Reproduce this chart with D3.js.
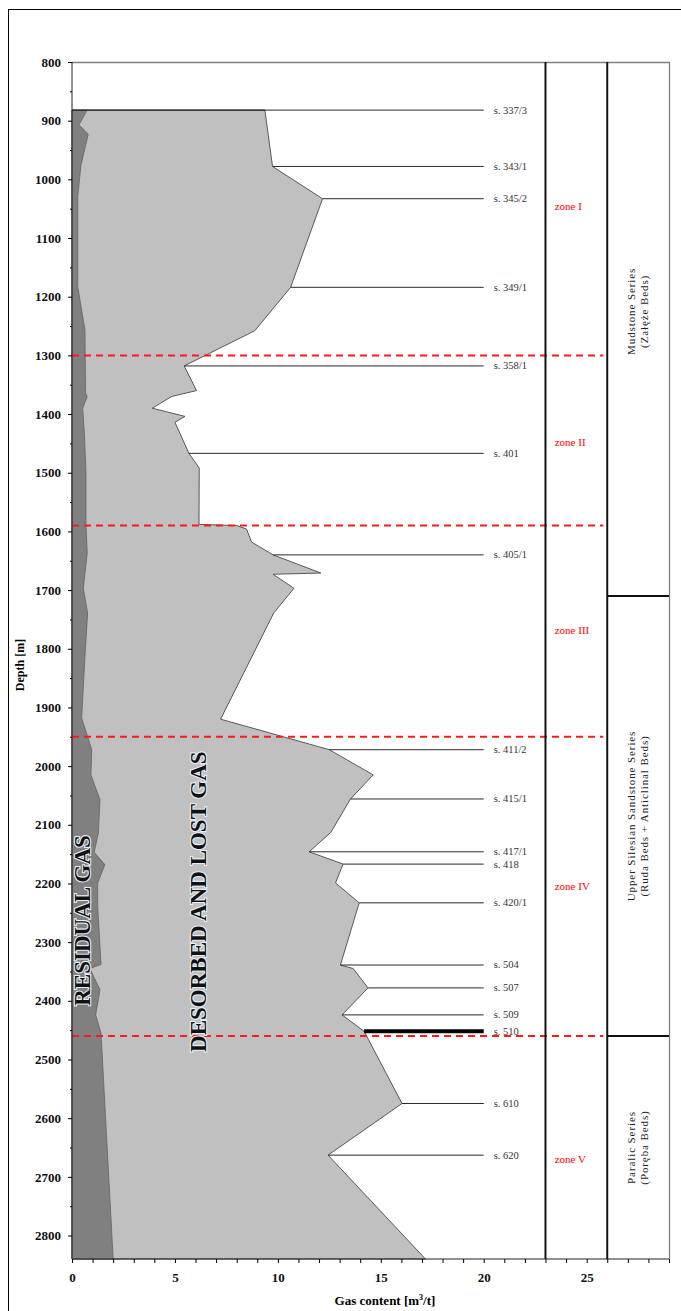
<!DOCTYPE html>
<html>
<head>
<meta charset="utf-8">
<script src="https://cdn.jsdelivr.net/npm/d3@7"></script>
<style>
  html, body { margin: 0; padding: 0; background: #fff; }
  svg { display: block; font-family: "Liberation Serif", "Times New Roman", serif; }
</style>
</head>
<body>
<svg id="chart" width="681" height="1311"></svg>
<script>
// Total gas content (desorbed + lost + residual) vs depth
const totalDepth = [882, 978, 1033, 1184, 1258, 1318, 1360, 1370, 1390, 1404, 1414, 1467, 1492, 1588, 1590, 1596, 1618, 1640, 1671, 1673, 1697, 1739, 1920, 1972, 2015, 2056, 2113, 2146, 2167, 2199, 2233, 2339, 2345, 2378, 2424, 2452, 2575, 2663, 2840];
const totalGas = [9.37, 9.74, 12.17, 10.62, 8.88, 5.45, 6.05, 4.84, 3.9, 5.49, 5.0, 5.68, 6.18, 6.17, 8.0, 8.48, 8.72, 9.77, 12.09, 9.77, 10.78, 9.8, 7.22, 12.5, 14.63, 13.53, 12.57, 11.52, 13.17, 12.8, 13.95, 13.04, 13.66, 14.38, 13.12, 14.19, 16.03, 12.44, 17.17];

// Residual gas content vs depth
const residualDepth = [882, 907, 923, 975, 1029, 1183, 1257, 1364, 1370, 1390, 1432, 1500, 1588, 1637, 1697, 1739, 1813, 1918, 1972, 2015, 2057, 2114, 2147, 2168, 2199, 2239, 2338, 2345, 2381, 2424, 2455, 2840];
const residualGas = [0.74, 0.34, 0.79, 0.44, 0.28, 0.28, 0.63, 0.66, 0.74, 0.52, 0.6, 0.68, 0.68, 0.74, 0.55, 0.76, 0.63, 0.47, 0.96, 0.92, 1.36, 1.28, 1.08, 1.6, 1.25, 1.25, 1.41, 0.87, 1.36, 1.15, 1.41, 2.0];

// Sampled seams
const sampleNames = ["s. 337/3", "s. 343/1", "s. 345/2", "s. 349/1", "s. 358/1", "s. 401", "s. 405/1", "s. 411/2", "s. 415/1", "s. 417/1", "s. 418", "s. 420/1", "s. 504", "s. 507", "s. 509", "s. 510", "s. 610", "s. 620"];
const sampleDepths = [882, 978, 1033, 1184, 1318, 1467, 1640, 1972, 2056, 2146, 2167, 2233, 2339, 2378, 2424, 2452, 2575, 2663];
const highlightedSample = "s. 510";

// Gas zones
const zoneBounds = [1300, 1590, 1950, 2460];
const zoneNames = ["zone I", "zone II", "zone III", "zone IV", "zone V"];
const zoneLabelDepths = [1046, 1449, 1769, 2205, 2670];

// Lithostratigraphic series
const seriesBounds = [1710, 2460];
const seriesLines = [
  ["Mudstone Series", "(Załęże Beds)"],
  ["Upper Silesian Sandstone Series", "(Ruda Beds + Anticlinal Beds)"],
  ["Paralic Series", "(Poręba Beds)"]
];
const seriesLabelDepths = [1225, 2085, 2650];

// Axes
const depthTicks = d3.range(800, 2801, 100);
const depthMinorTicks = d3.range(850, 2801, 100);
const gasTicks = d3.range(0, 30, 1);
const gasLabelTicks = [0, 5, 10, 15, 20, 25];
const depthDomain = [800, 2840];
const gasDomain = [0, 29];
const sampleLineEnd = 20;
const zoneColumn = [23, 26];

const svg = d3.select("#chart");
const plotLeft = 72, plotRight = 669, plotTop = 62, plotBottom = 1259;

const x = d3.scaleLinear().domain(gasDomain).range([plotLeft, plotRight]);
const y = d3.scaleLinear().domain(depthDomain).range([plotTop, plotBottom]);

// Outer frame
svg.append("rect").attr("x", 8.5).attr("y", 9.5).attr("width", 700).attr("height", 1400)
  .attr("fill", "none").attr("stroke", "#000").attr("stroke-width", 1);

// Plot border (top and right)
svg.append("path")
  .attr("d", `M${plotLeft},${plotTop + 0.5}H${plotRight + 0.5}V${plotBottom}`)
  .attr("fill", "none").attr("stroke", "#808080").attr("stroke-width", 1.3);

// Total gas area
const totalPts = totalDepth.map((d, i) => [totalGas[i], d]);
const areaFromZero = d3.area().y(d => y(d[1])).x0(x(0)).x1(d => x(d[0]));
svg.append("path").datum(totalPts)
  .attr("d", areaFromZero)
  .attr("fill", "#c0c0c0").attr("stroke", "#4a4a4a").attr("stroke-width", 0.9)
  .attr("stroke-linejoin", "miter");

// Residual gas area
const resPts = residualDepth.map((d, i) => [residualGas[i], d]);
svg.append("path").datum(resPts)
  .attr("d", areaFromZero)
  .attr("fill", "#808080").attr("stroke", "#5a5a5a").attr("stroke-width", 0.7);

// Top edge of the data
svg.append("line")
  .attr("x1", x(0)).attr("x2", x(totalGas[0]))
  .attr("y1", y(totalDepth[0])).attr("y2", y(totalDepth[0]))
  .attr("stroke", "#222").attr("stroke-width", 1.2);

// Interpolated total gas at a depth
function totalAt(depth) {
  for (let i = 0; i < totalDepth.length - 1; i++) {
    if (depth >= totalDepth[i] && depth <= totalDepth[i + 1]) {
      const t = (depth - totalDepth[i]) / (totalDepth[i + 1] - totalDepth[i] || 1);
      return totalGas[i] + t * (totalGas[i + 1] - totalGas[i]);
    }
  }
  return totalGas[totalGas.length - 1];
}

// Sample lines and labels
const samples = svg.append("g");
sampleNames.forEach((name, i) => {
  const d = sampleDepths[i];
  const hl = name === highlightedSample;
  samples.append("line")
    .attr("x1", x(totalAt(d))).attr("x2", x(sampleLineEnd))
    .attr("y1", y(d)).attr("y2", y(d))
    .attr("stroke", hl ? "#000" : "#2a2a2a")
    .attr("stroke-width", hl ? 4 : 1);
  samples.append("text")
    .attr("x", x(sampleLineEnd) + 10).attr("y", y(d))
    .attr("dy", "0.33em")
    .attr("font-size", 10.5).attr("fill", "#333")
    .text(name);
});

// Zone boundaries
svg.append("g").selectAll("line").data(zoneBounds).join("line")
  .attr("x1", x(0)).attr("x2", x(zoneColumn[1]) - 4)
  .attr("y1", d => y(d)).attr("y2", d => y(d))
  .attr("stroke", "#ff1a1a").attr("stroke-width", 2)
  .attr("stroke-dasharray", "7,5");

// Zone and series column separators
svg.append("g").selectAll("line").data(zoneColumn).join("line")
  .attr("x1", d => x(d)).attr("x2", d => x(d))
  .attr("y1", plotTop).attr("y2", plotBottom)
  .attr("stroke", "#111").attr("stroke-width", 2);

svg.append("g").selectAll("line").data(seriesBounds).join("line")
  .attr("x1", x(zoneColumn[1])).attr("x2", x(gasDomain[1]))
  .attr("y1", d => y(d)).attr("y2", d => y(d))
  .attr("stroke", "#111").attr("stroke-width", 2);

// Zone labels
svg.append("g").selectAll("text").data(zoneNames).join("text")
  .attr("x", x(23.45)).attr("y", (d, i) => y(zoneLabelDepths[i]))
  .attr("dy", "0.33em")
  .attr("font-size", 11).attr("fill", "#ff0000")
  .text(d => d);

// Series labels
const seriesX = (x(zoneColumn[1]) + x(gasDomain[1])) / 2;
seriesLines.forEach((lines, i) => {
  const cy = y(seriesLabelDepths[i]);
  const g = svg.append("g").attr("transform", `translate(${seriesX},${cy}) rotate(-90)`);
  lines.forEach((t, j) => {
    g.append("text")
      .attr("x", 0).attr("y", (j - 0.5) * 13)
      .attr("dy", "0.35em")
      .attr("text-anchor", "middle")
      .attr("font-size", 11).attr("letter-spacing", 0.9)
      .attr("fill", "#222")
      .text(t);
  });
});

// Y axis
const yAxis = svg.append("g").attr("transform", `translate(${plotLeft},0)`)
  .call(d3.axisLeft(y).tickValues(depthTicks).tickSize(4).tickPadding(7).tickFormat(d3.format("d")));
yAxis.select(".domain").attr("stroke", "#222").attr("d", `M0,${plotTop}V${plotBottom}`);
yAxis.selectAll("text").attr("font-size", 13).attr("font-weight", "bold")
  .attr("font-family", "Liberation Serif, serif").attr("fill", "#111");
svg.append("g").attr("transform", `translate(${plotLeft},0)`)
  .call(d3.axisLeft(y).tickValues(depthMinorTicks).tickSize(2).tickFormat(""))
  .select(".domain").remove();

// X axis
const xAxis = svg.append("g").attr("transform", `translate(0,${plotBottom})`)
  .call(d3.axisBottom(x).tickValues(gasTicks).tickSize(4).tickPadding(10)
    .tickFormat(d => gasLabelTicks.includes(d) ? d : ""));
xAxis.select(".domain").attr("stroke", "#222").attr("d", `M${plotLeft},0H${plotRight}`);
xAxis.selectAll("text").attr("font-size", 13).attr("font-weight", "bold")
  .attr("font-family", "Liberation Serif, serif").attr("fill", "#111");

// Axis titles
svg.append("text")
  .attr("transform", `translate(24,665) rotate(-90)`)
  .attr("text-anchor", "middle")
  .attr("font-size", 12).attr("font-weight", "bold")
  .text("Depth [m]");

const xt = svg.append("text")
  .attr("x", 385).attr("y", 1305)
  .attr("text-anchor", "middle")
  .attr("font-size", 13).attr("font-weight", "bold");
xt.append("tspan").text("Gas content [m");
xt.append("tspan").attr("font-size", 8).attr("dy", -5).text("3");
xt.append("tspan").attr("dy", 5).text("/t]");

// Area captions
function caption(text, gx, depth) {
  svg.append("text")
    .attr("transform", `translate(${x(gx)},${y(depth)}) rotate(-90)`)
    .attr("text-anchor", "middle").attr("dy", "0.35em")
    .attr("font-size", 23).attr("font-weight", "bold")
    .attr("fill", "#111")
    .attr("stroke", "#e6eef6").attr("stroke-width", 2.2)
    .attr("paint-order", "stroke")
    .text(text);
}
caption("RESIDUAL GAS", 0.5, 2263);
caption("DESORBED AND LOST GAS", 6.1, 2231);
</script>
</body>
</html>
